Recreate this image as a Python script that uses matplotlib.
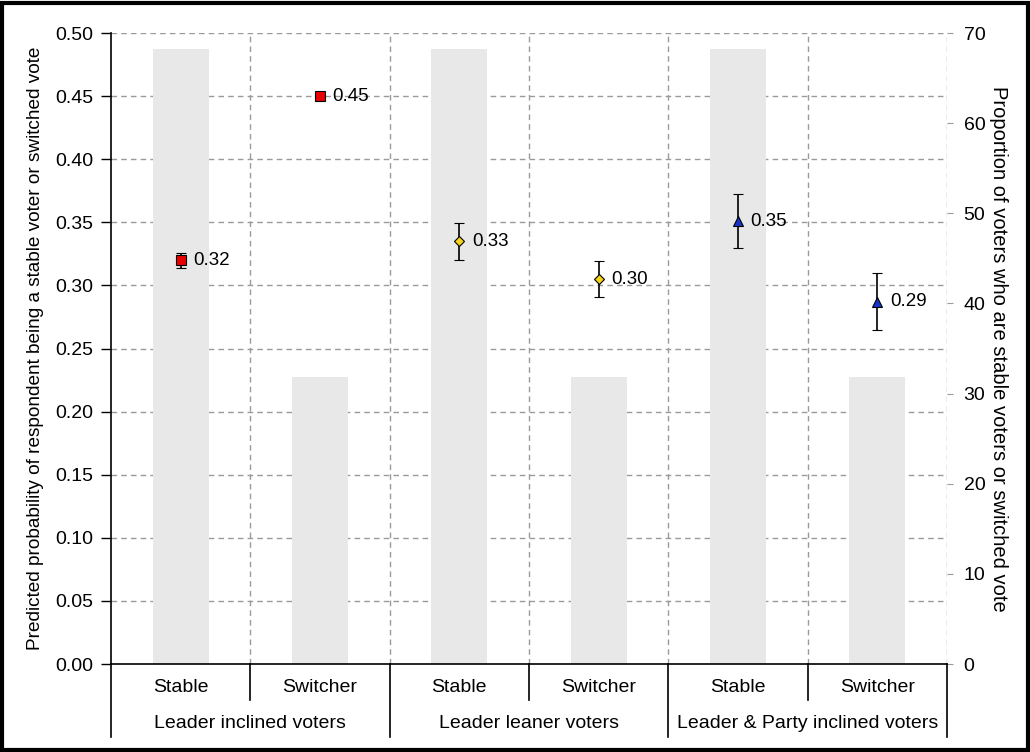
import numpy as np
import matplotlib.pyplot as plt
from matplotlib.patches import Rectangle

plt.rcParams['font.family'] = ['Liberation Sans', 'DejaVu Sans']

# data
groups = ['Leader inclined voters', 'Leader leaner voters', 'Leader & Party inclined voters']
cats = ['Stable', 'Switcher', 'Stable', 'Switcher', 'Stable', 'Switcher']
share = [68.2, 31.8, 68.2, 31.8, 68.2, 31.8]
prob = [0.320, 0.450, 0.335, 0.305, 0.351, 0.287]
err = [0.006, 0.003, 0.0145, 0.0143, 0.0215, 0.0225]
labels = ['0.32', '0.45', '0.33', '0.30', '0.35', '0.29']
markers = ['s', 's', 'D', 'D', '^', '^']
colors = ['#e80000', '#e80000', '#f7d417', '#f7d417', '#1634c8', '#1634c8']
msizes = [6.5, 6.5, 5, 5, 7, 7]

x = np.arange(len(cats)) + 0.5
grid_c = '#9a9a9a'

fig = plt.figure(figsize=(10.3, 7.52), dpi=100)
ax = fig.add_axes([0.1078, 0.117, 0.8116, 0.839])
ax2 = ax.twinx()
ax.set_zorder(ax2.get_zorder() + 1)
ax.patch.set_visible(False)

# grid behind the bars (drawn on the right-scale axes)
yticks = np.round(np.arange(0, 0.501, 0.05), 2)
for t in yticks[1:]:
    ax2.axhline(t * 140, color=grid_c, lw=1, ls=(0, (4, 3)), zorder=0)
for b in range(1, 7):
    ax2.axvline(b, color=grid_c, lw=1, ls=(0, (4, 3)), zorder=0)

ax2.bar(x, share, width=0.4, color='#e8e8e8', zorder=1)
ax2.set_ylim(0, 70)
ax2.set_yticks(np.arange(0, 71, 10))
ax2.tick_params(axis='y', length=4, color=grid_c, labelsize=14, pad=8)
ax2.set_ylabel('Proportion of voters who are stable voters or switched vote',
               rotation=270, fontsize=14.5, labelpad=16)

for i in range(len(cats)):
    ax.errorbar(x[i], prob[i], yerr=err[i], fmt=markers[i], color='black',
                mfc=colors[i], mec='black', mew=0.8, ms=msizes[i],
                capsize=3.5, elinewidth=1.2, capthick=1.2, zorder=5)
    ax.text(x[i] + 0.09, prob[i], labels[i], fontsize=13.5, va='center', ha='left', zorder=6)

ax.set_xlim(0, 6)
ax.set_ylim(0, 0.5)
ax.set_yticks(yticks)
ax.set_yticklabels(['%.2f' % t for t in yticks])
ax.tick_params(axis='y', length=7, width=1, labelsize=14, pad=6)
ax.set_xticks([])
ax.set_ylabel('Predicted probability of respondent being a stable voter or switched vote',
              fontsize=13.7, labelpad=8)

for a in (ax, ax2):
    a.spines['top'].set_visible(False)
    a.spines['right'].set_visible(False)
ax2.spines['left'].set_visible(False)
ax2.spines['bottom'].set_visible(False)
ax.spines['left'].set_linewidth(1.2)
ax.spines['bottom'].set_linewidth(1.2)

# category axis below
tr = ax.get_xaxis_transform()
for i, c in enumerate(cats):
    ax.text(x[i], -0.038, c, transform=tr, ha='center', va='center', fontsize=14)
for g, name in enumerate(groups):
    ax.text(2 * g + 1, -0.094, name, transform=tr, ha='center', va='center', fontsize=14)
for b in range(0, 7):
    low = -0.116 if b % 2 == 0 else -0.057
    ax.plot([b, b], [0, low], transform=tr, color='black', lw=1.2, clip_on=False)

fig.patches.append(Rectangle((0.002, 0.003), 0.996, 0.993, transform=fig.transFigure,
                             fill=False, ec='black', lw=3))

fig.savefig('out.png', dpi=100)
